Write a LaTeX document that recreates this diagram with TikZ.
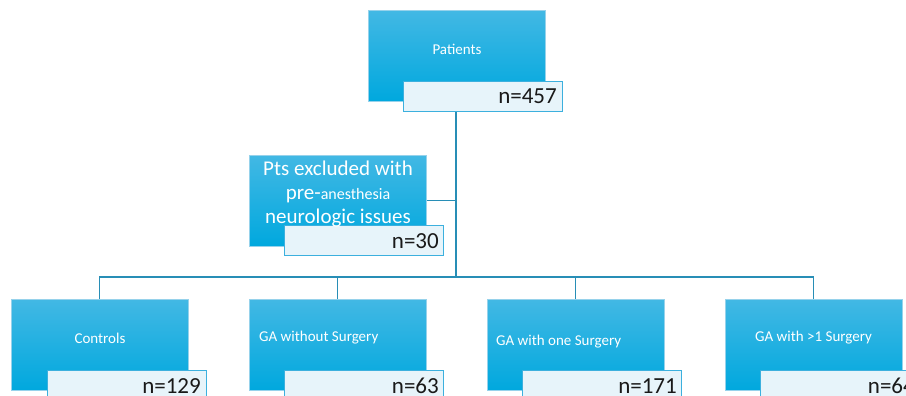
\documentclass[tikz,border=0pt]{standalone}
\usepackage{fontspec}
\setmainfont{Carlito}
\definecolor{btop}{RGB}{66,184,228}
\definecolor{bbot}{RGB}{0,168,222}
\definecolor{bedge}{RGB}{150,210,235}
\definecolor{nfill}{RGB}{231,244,250}
\definecolor{nedge}{RGB}{60,176,222}
\definecolor{conn}{RGB}{40,142,182}
\definecolor{ntext}{RGB}{25,25,25}
\tikzset{
  bluebox/.style={draw=bedge, line width=0.8pt, top color=btop, bottom color=bbot,
    minimum width=177pt, minimum height=91pt, anchor=north west, inner sep=0pt},
  nbox/.style={draw=nedge, line width=1pt, fill=nfill, minimum width=159pt,
    minimum height=30pt, anchor=north west, inner sep=0pt},
  lbl/.style={text=white, font=\fontsize{15}{18}\selectfont, inner sep=0pt},
  biglbl/.style={text=white, font=\fontsize{21}{24}\selectfont, inner sep=0pt, align=center},
  nlbl/.style={text=ntext, font=\fontsize{23}{26}\selectfont, inner sep=0pt, anchor=base east},
  link/.style={draw=conn, line width=1.1pt},
}
\begin{document}
\begin{tikzpicture}[x=1pt,y=-1pt]
\useasboundingbox (0,0) rectangle (906,396);
\coordinate (trunk) at (456,111);
\coordinate (bus) at (456,277);
% boxes (geometry)
\node[bluebox] (p) at (368,10) {};
\node[bluebox] (ex) at (249,155) {};
\node[bluebox] (c1) at (11,299) {};
\node[bluebox] (c2) at (249,299) {};
\node[bluebox] (c3) at (487,299) {};
\node[bluebox] (c4) at (725,299) {};
% connectors
\draw[link] (trunk) -- (bus);
\draw[link] (ex.east) -- (ex.east -| trunk);
\draw[link] (c1.north) |- (bus);
\draw[link] (c2.north) |- (bus);
\draw[link] (c3.north) |- (bus);
\draw[link] (c4.north) |- (bus);
% n boxes
\node[nbox] (pn) at (403,81) {};
\node[nbox] (exn) at (284,225) {};
\node[nbox] (c1n) at (47,370) {};
\node[nbox] (c2n) at (284,370) {};
\node[nbox] (c3n) at (522,370) {};
\node[nbox] (c4n) at (760,370) {};
% labels
\node[lbl] (pt) at (457,49) {Patients};
\node[biglbl] (ext) at (338,194)
  {Pts excluded with\\
   pre-{\fontsize{16}{24}\selectfont anesthesia}\\
   neurologic issues};
\node[lbl] (c1t) at (100,338) {Controls};
\node[lbl, anchor=west] (c2t) at (259,338) {GA without Surgery};
\node[lbl, anchor=west] (c3t) at (496,342) {GA with one Surgery};
\node[lbl, anchor=west] (c4t) at (755,338) {GA with >1 Surgery};
\node[nlbl] (pnt) at (557,104) {n=457};
\node[nlbl] (exnt) at (439,248) {n=30};
\node[nlbl] (c1nt) at (201,393) {n=129};
\node[nlbl] (c2nt) at (439,393) {n=63};
\node[nlbl] (c3nt) at (677,393) {n=171};
\node[nlbl] (c4nt) at (915,393) {n=64};
\end{tikzpicture}
\end{document}
